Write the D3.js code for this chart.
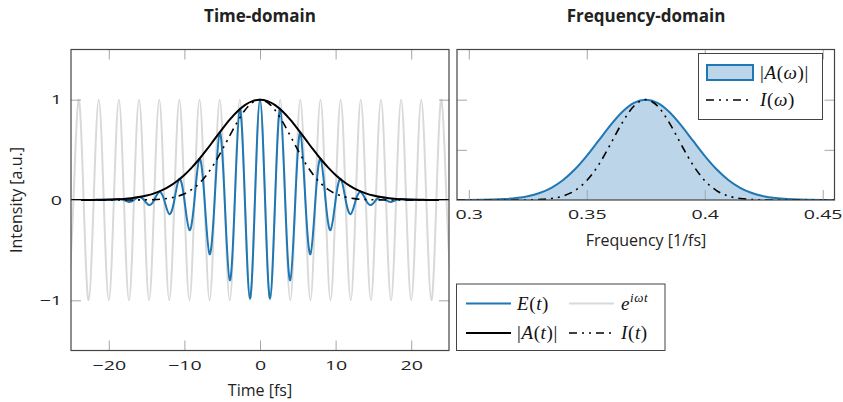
<!DOCTYPE html>
<html>
<head>
<meta charset="utf-8">
<script src="https://cdn.jsdelivr.net/npm/d3@7"></script>
<style>
  body { margin: 0; background: #fff; }
  text { font-family: "Open Sans", sans-serif; fill: #222; }
  .math { font-family: "Liberation Serif", serif; fill: #111; }
</style>
</head>
<body>
<div id="chart"></div>
<script>
const width = 843, height = 402;

// Time samples [fs], a quarter carrier period apart
const waveT = [-25.33,-24.67,-24,-23.33,-22.67,-22,-21.33,-20.67,-20,-19.33,-18.67,-18,-17.33,-16.67,-16,-15.33,-14.67,-14,-13.33,-12.67,-12,-11.33,-10.67,-10,-9.33,-8.67,-8,-7.33,-6.67,-6,-5.33,-4.67,-4,-3.33,-2.67,-2,-1.33,-0.67,
  0,0.67,1.33,2,2.67,3.33,4,4.67,5.33,6,6.67,7.33,8,8.67,9.33,10,10.67,11.33,12,12.67,13.33,14,14.67,15.33,16,16.67,17.33,18,18.67,19.33,20,20.67,21.33,22,22.67,23.33,24,24.67,25.33];
// carrier e^{iwt} (grey)
const carrier = [-1,0,1,0,-1,0,1,0,-1,0,1,0,-1,0,1,0,-1,0,1,0,
  -1,0,1,0,-1,0,1,0,-1,0,1,0,-1,0,1,0,-1,0,1,0,
  -1,0,1,0,-1,0,1,0,-1,0,1,0,-1,0,1,0,-1,0,1,0,
  -1,0,1,0,-1,0,1,0,-1,0,1,0,-1,0,1,0,
  -1];
// field E(t) (blue)
const field = [0,0,0,0,0,0,0,0,0,0,0.01,0,-0.02,0,0.03,0,-0.05,0,0.08,0,-0.14,0,0.21,0,-0.30,0,0.41,0,-0.54,0,0.67,0,-0.80,0,0.91,0,-0.98,0,
  1,0,-0.98,0,0.91,0,-0.80,0,0.67,0,-0.54,0,0.41,0,-0.30,0,0.21,0,-0.14,0,0.08,0,-0.05,0,0.03,0,-0.02,0,0.01,0,0,0,0,0,0,0,0,0,0];

// envelope |A(t)| and intensity I(t)
const envT = [-25,-24,-23,-22,-21,-20,-19,-18,-17,-16,-15,-14,-13,-12,-11,-10,-9,-8,-7,-6,-5,-4,-3,-2,-1,
  0,1,2,3,4,5,6,7,8,9,10,11,12,13,14,15,16,17,18,19,20,21,22,23,24,25];
const envelope = [0,0,0,0.001,0.002,0.004,0.007,0.011,0.018,0.029,0.044,0.066,0.096,0.135,0.187,0.249,0.325,0.411,0.506,0.607,0.707,0.801,0.882,0.946,0.986,
  1,0.986,0.946,0.882,0.801,0.707,0.607,0.506,0.411,0.325,0.249,0.187,0.135,0.096,0.066,0.044,0.029,0.018,0.011,0.007,0.004,0.002,0.001,0,0,0];
const intensity = [0,0,0,0,0,0,0,0,0,0.001,0.002,0.004,0.009,0.018,0.035,0.062,0.105,0.169,0.256,0.368,0.5,0.641,0.778,0.895,0.972,
  1,0.972,0.895,0.778,0.641,0.5,0.368,0.256,0.169,0.105,0.062,0.035,0.018,0.009,0.004,0.002,0.001,0,0,0,0,0,0,0,0,0];

// spectrum [1/fs]
const freq = [0.295,0.3,0.305,0.31,0.315,0.32,0.325,0.33,0.335,0.34,0.345,0.35,0.355,0.36,0.365,0.37,0.375,
  0.38,0.385,0.39,0.395,0.4,0.405,0.41,0.415,0.42,0.425,0.43,0.435,0.44,0.445,0.45,0.455];
const specAmp = [0,0.001,0.002,0.004,0.009,0.019,0.037,0.070,0.122,0.200,0.306,0.440,0.591,0.744,0.877,0.968,1,
  0.968,0.877,0.744,0.591,0.440,0.306,0.200,0.122,0.070,0.037,0.019,0.009,0.004,0.002,0.001,0];
const specInt = [0,0,0,0,0,0,0.001,0.005,0.015,0.040,0.094,0.194,0.349,0.554,0.769,0.937,1,
  0.937,0.769,0.554,0.349,0.194,0.094,0.040,0.015,0.005,0.001,0,0,0,0,0,0];

const timeTicks = [-20, -10, 0, 10, 20];
const ampTicks = [-1, 0, 1];
const freqTicks = [0.3, 0.35, 0.4, 0.45];
const specTicks = [0.5, 1];

const colors = {
  blue: "#1f77b4",
  fill: "#bcd5e8",
  grey: "#d9d9d9",
  frame: "#444",
  tick: "#a6a6a6"
};
const dashDotDot = "8,5,2,5,2,5";
const tickStretch = 1.45; // tick numbers in the reference are wide and low

const svg = d3.select('#chart').append('svg')
  .attr('width', width)
  .attr('height', height);

const xTime = d3.scaleLinear().domain([-25, 25]).range([71, 449]);
const yTime = d3.scaleLinear().domain([-1.5, 1.5]).range([350.5, 49.5]);
const xFreq = d3.scaleLinear().domain([0.295, 0.455]).range([457, 834.5]);
const yFreq = d3.scaleLinear().domain([0, 1.5]).range([200, 49.5]);

addClip('clipTime', xTime, yTime);
addClip('clipFreq', xFreq, yFreq);

// _________Time-domain_________
let gT = svg.append('g').attr('clip-path', 'url(#clipTime)');

let waveLine = (vals) => d3.line()
  .x((d, i) => xTime(waveT[i]))
  .y(d => yTime(d))
  .curve(d3.curveNatural)(vals);
let envLine = (vals) => d3.line()
  .x((d, i) => xTime(envT[i]))
  .y(d => yTime(d))
  .curve(d3.curveMonotoneX)(vals);

gT.append('path').attr('d', waveLine(carrier))
  .attr('fill', 'none').attr('stroke', colors.grey).attr('stroke-width', 2);
gT.append('path').attr('d', waveLine(field))
  .attr('fill', 'none').attr('stroke', colors.blue).attr('stroke-width', 2);
gT.append('path').attr('d', envLine(envelope))
  .attr('fill', 'none').attr('stroke', '#000').attr('stroke-width', 2);
gT.append('path').attr('d', envLine(intensity))
  .attr('fill', 'none').attr('stroke', '#000').attr('stroke-width', 1.6)
  .attr('stroke-dasharray', dashDotDot);

drawFrame(xTime, yTime, timeTicks, ampTicks, true, true, 10);

svg.append('text').attr('x', 260).attr('y', 22)
  .attr('text-anchor', 'middle').style('font-weight', 'bold').style('font-size', '17px')
  .text('Time-domain');
svg.append('text').attr('x', 260).attr('y', 396)
  .attr('text-anchor', 'middle').style('font-size', '16px')
  .text('Time [fs]');
svg.append('text').attr('transform', 'translate(22,200) rotate(-90)')
  .attr('text-anchor', 'middle').style('font-size', '16px')
  .text('Intensity [a.u.]');

// _________Frequency-domain_________
let gF = svg.append('g').attr('clip-path', 'url(#clipFreq)');

gF.append('path')
  .attr('d', d3.area()
    .x((d, i) => xFreq(freq[i]))
    .y0(yFreq(0))
    .y1(d => yFreq(d))
    .curve(d3.curveMonotoneX)(specAmp))
  .attr('fill', colors.fill);
gF.append('path')
  .attr('d', d3.line()
    .x((d, i) => xFreq(freq[i]))
    .y(d => yFreq(d))
    .curve(d3.curveMonotoneX)(specAmp))
  .attr('fill', 'none').attr('stroke', colors.blue).attr('stroke-width', 2);
gF.append('path')
  .attr('d', d3.line()
    .x((d, i) => xFreq(freq[i]))
    .y(d => yFreq(d))
    .curve(d3.curveMonotoneX)(specInt))
  .attr('fill', 'none').attr('stroke', '#000').attr('stroke-width', 1.6)
  .attr('stroke-dasharray', dashDotDot);

drawFrame(xFreq, yFreq, freqTicks, specTicks, true, false, 9);

svg.append('text').attr('x', 646).attr('y', 22)
  .attr('text-anchor', 'middle').style('font-weight', 'bold').style('font-size', '17px')
  .text('Frequency-domain');
svg.append('text').attr('x', 646).attr('y', 246)
  .attr('text-anchor', 'middle').style('font-size', '16px')
  .text('Frequency [1/fs]');

// _________Legends_________
// spectrum legend
svg.append('rect').attr('x', 698.5).attr('y', 53.5).attr('width', 124).attr('height', 66)
  .attr('fill', '#fff').attr('stroke', colors.frame).attr('stroke-width', 1);
svg.append('rect').attr('x', 707).attr('y', 65).attr('width', 46).attr('height', 15)
  .attr('fill', colors.fill).attr('stroke', colors.blue).attr('stroke-width', 2);
mathText(760, 78.5, [['|'], ['A', 1], ['('], ['ω', 1], [')'], ['|']]);
legendLine(706, 753, 100, '#000', 1.6, dashDotDot);
mathText(760, 106, [['I', 1], ['('], ['ω', 1], [')']]);

// time legend
svg.append('rect').attr('x', 456.5).attr('y', 284).attr('width', 208.5).attr('height', 66.5)
  .attr('fill', '#fff').attr('stroke', colors.frame).attr('stroke-width', 1);
legendLine(466, 511, 303.5, colors.blue, 2);
mathText(517, 309.5, [['E', 1], ['('], ['t', 1], [')']]);
legendLine(569, 614, 303.5, colors.grey, 2);
mathText(621, 309.5, [['e', 1], ['iωt', 1, 1]]);
legendLine(466, 511, 333, '#000', 2);
mathText(517, 339, [['|'], ['A', 1], ['('], ['t', 1], [')'], ['|']]);
legendLine(569, 614, 333, '#000', 1.6, dashDotDot);
mathText(621, 339, [['I', 1], ['('], ['t', 1], [')']]);

// _________Helper Functions_________

function addClip(id, x, y) {
  svg.append('clipPath').attr('id', id).append('rect')
    .attr('x', x.range()[0]).attr('y', y.range()[1])
    .attr('width', x.range()[1] - x.range()[0])
    .attr('height', y.range()[0] - y.range()[1]);
}

// pgfplots style box: ticks inside on all four sides, labels bottom/left
function drawFrame(x, y, xt, yt, xLabels, yLabels, padX) {
  let [x0, x1] = x.range();
  let [yb, ytop] = y.range();
  let fmt = d3.format('');
  let axes = [
    [d3.axisBottom(x).tickValues(xt).tickPadding(padX).tickFormat(xLabels ? fmt : ''), `translate(0,${yb})`],
    [d3.axisTop(x).tickValues(xt).tickFormat(''), `translate(0,${ytop})`],
    [d3.axisLeft(y).tickValues(yt).tickPadding(9 / tickStretch).tickFormat(yLabels ? fmt : ''), `translate(${x0},0)`],
    [d3.axisRight(y).tickValues(yt).tickFormat(''), `translate(${x1},0)`]
  ];
  axes.forEach(([ax, tr]) => {
    let g = svg.append('g').attr('transform', tr)
      .call(ax.tickSizeInner(-10).tickSizeOuter(0));
    g.select('.domain').remove();
    g.selectAll('.tick line').attr('stroke', colors.tick).attr('stroke-width', 1);
    g.selectAll('.tick text').attr('fill', '#222')
      .attr('transform', `scale(${tickStretch},1)`)
      .style('font-family', '"Open Sans", sans-serif').style('font-size', '13.5px');
  });
  svg.append('rect').attr('x', x0).attr('y', ytop)
    .attr('width', x1 - x0).attr('height', yb - ytop)
    .attr('fill', 'none').attr('stroke', colors.frame).attr('stroke-width', 1.2);
}

function legendLine(xa, xb, y, color, w, dash) {
  svg.append('line').attr('x1', xa).attr('x2', xb).attr('y1', y).attr('y2', y)
    .attr('stroke', color).attr('stroke-width', w)
    .attr('stroke-dasharray', dash || null);
}

// parts: [text, italic, superscript]
function mathText(x, y, parts) {
  let t = svg.append('text').attr('class', 'math').attr('x', x).attr('y', y)
    .style('font-size', '19px').style('letter-spacing', '0.6px');
  parts.forEach(([s, it, sup]) => {
    let span = t.append('tspan').text(s)
      .style('font-style', it ? 'italic' : 'normal');
    if (sup) span.attr('dy', -8).style('font-size', '13px');
  });
}
</script>
</body>
</html>
